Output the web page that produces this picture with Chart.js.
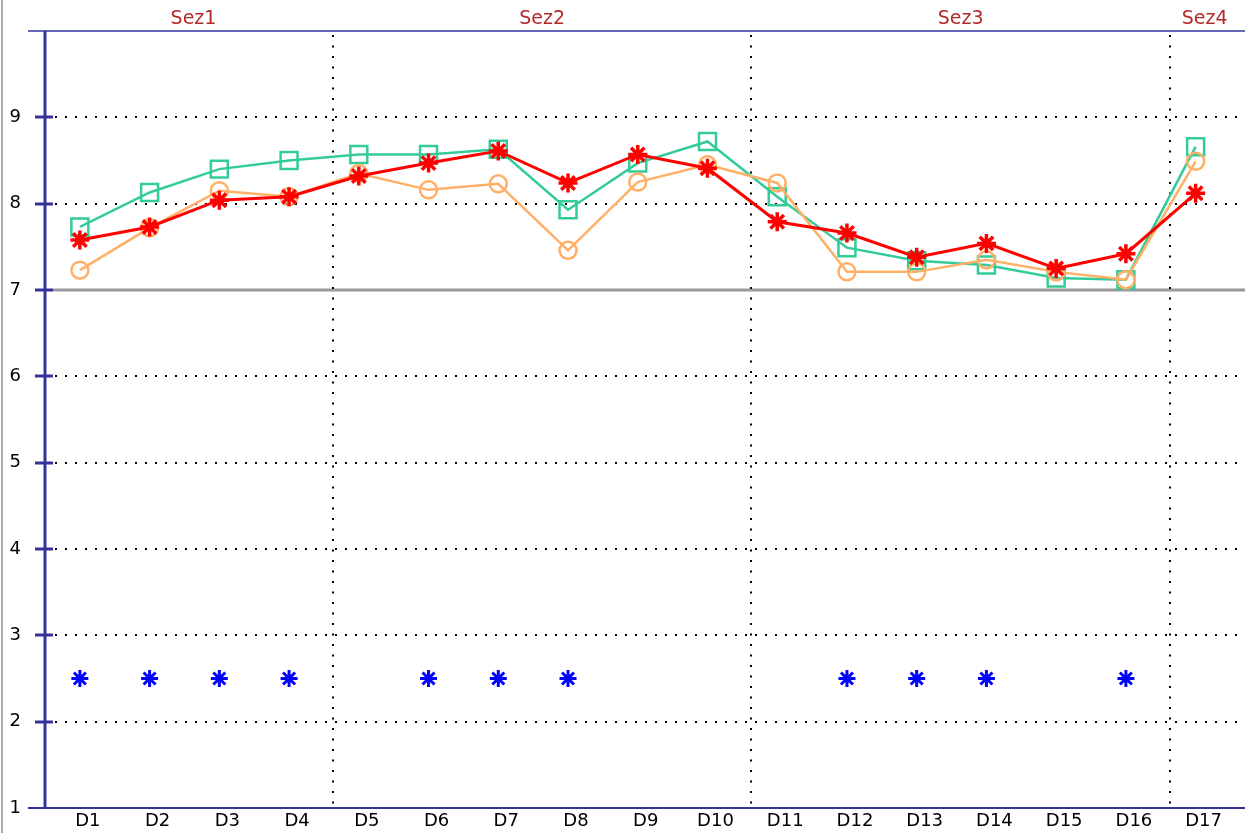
<!DOCTYPE html>
<html>
<head>
<meta charset="utf-8">
<script src="https://cdn.jsdelivr.net/npm/chart.js@4.4.1/dist/chart.umd.min.js"></script>
<style>
  html, body { margin: 0; padding: 0; background: #fff; overflow: hidden; }
  #wrap { width: 1245px; height: 833px; }
</style>
</head>
<body>
<div id="wrap"><canvas id="trend_chart"></canvas></div>
<script>
const labels = ['D1','D2','D3','D4','D5','D6','D7','D8','D9','D10','D11','D12','D13','D14','D15','D16','D17'];
const green_vals = [7.73, 8.13, 8.40, 8.50, 8.57, 8.57, 8.63, 7.93, 8.47, 8.72, 8.08, 7.49, 7.34, 7.29, 7.14, 7.12, 8.66];
const red_vals = [7.58, 7.73, 8.04, 8.08, 8.32, 8.47, 8.61, 8.24, 8.57, 8.41, 7.79, 7.66, 7.38, 7.54, 7.25, 7.42, 8.12];
const orange_vals = [7.23, 7.72, 8.15, 8.08, 8.35, 8.16, 8.23, 7.46, 8.25, 8.45, 8.24, 7.21, 7.21, 7.35, 7.21, 7.12, 8.49];
const blue_vals = [2.5, 2.5, 2.5, 2.5, null, 2.5, 2.5, 2.5, null, null, null, 2.5, 2.5, 2.5, null, 2.5, null];
// sections: name, first index, last index
const sections = [['Sez1', 0, 3], ['Sez2', 4, 9], ['Sez3', 10, 15], ['Sez4', 16, 16]];
const y_ticks = [1, 2, 3, 4, 5, 6, 7, 8, 9];

const AXIS_BLUE = '#333399';
const FONT = 'DejaVu Sans';

// draws grid, separators, axis lines and section titles
const framePlugin = {
  id: 'frame',
  beforeDatasetsDraw(chart) {
    const ctx = chart.ctx;
    const ys = chart.scales.y, xs = chart.scales.x;
    const area = chart.chartArea;
    const W = chart.width;
    const step = xs.getPixelForValue(1) - xs.getPixelForValue(0);
    ctx.save();
    // left border
    ctx.strokeStyle = '#aaaaaa';
    ctx.lineWidth = 2;
    ctx.beginPath(); ctx.moveTo(2, 0); ctx.lineTo(2, chart.height); ctx.stroke();

    // horizontal grid
    y_ticks.forEach(v => {
      if (v === 1) return;
      const y = Math.round(ys.getPixelForValue(v));
      ctx.beginPath();
      if (v === 7) {
        ctx.setLineDash([]);
        ctx.strokeStyle = '#999999';
        ctx.lineWidth = 3;
        ctx.moveTo(area.left + 8, y); ctx.lineTo(W, y);
      } else {
        ctx.setLineDash([2, 8]);
        ctx.strokeStyle = '#000000';
        ctx.lineWidth = 2;
        ctx.moveTo(area.left + 10, y); ctx.lineTo(W, y);
      }
      ctx.stroke();
    });

    // vertical separators
    ctx.setLineDash([2, 8.5]);
    ctx.strokeStyle = '#000000';
    ctx.lineWidth = 2;
    sections.slice(0, -1).forEach(s => {
      const x = Math.round(xs.getPixelForValue(s[2]) + step / 2 + 9);
      ctx.beginPath(); ctx.moveTo(x, area.top + 4); ctx.lineTo(x, area.bottom); ctx.stroke();
    });
    ctx.setLineDash([]);

    // section titles
    ctx.fillStyle = '#b22a2a';
    ctx.font = '19px "' + FONT + '"';
    ctx.textAlign = 'center';
    ctx.textBaseline = 'middle';
    sections.forEach(s => {
      const x = (xs.getPixelForValue(s[1]) + xs.getPixelForValue(s[2])) / 2 + 9;
      ctx.fillText(s[0], x, 19);
    });
    ctx.restore();
  },
  afterDatasetsDraw(chart) {
    const ctx = chart.ctx;
    const ys = chart.scales.y;
    const area = chart.chartArea;
    const W = chart.width;
    ctx.save();
    ctx.strokeStyle = AXIS_BLUE;
    // top and bottom lines
    ctx.lineWidth = 1.5;
    ctx.beginPath(); ctx.moveTo(28, area.top); ctx.lineTo(W, area.top); ctx.stroke();
    ctx.lineWidth = 2;
    ctx.beginPath(); ctx.moveTo(28, area.bottom); ctx.lineTo(W, area.bottom); ctx.stroke();
    // y axis line
    ctx.lineWidth = 3;
    ctx.beginPath(); ctx.moveTo(area.left, area.top); ctx.lineTo(area.left, area.bottom); ctx.stroke();
    // tick marks
    y_ticks.forEach(v => {
      if (v === 1) return;
      const y = Math.round(ys.getPixelForValue(v));
      ctx.beginPath(); ctx.moveTo(area.left - 10, y); ctx.lineTo(area.left + 8, y); ctx.stroke();
    });
    ctx.restore();
  }
};

const trend_chart = document.getElementById('trend_chart');

new Chart(trend_chart, {
  type: 'line',
  data: {
    labels: labels,
    datasets: [
      {
        label: 'blu',
        data: blue_vals,
        showLine: false,
        borderColor: '#0000ff',
        backgroundColor: '#0000ff',
        pointStyle: 'star',
        pointRadius: 8.5,
        pointBorderWidth: 3,
        order: 4
      },
      {
        label: 'verde',
        data: green_vals,
        borderColor: '#33cc99',
        backgroundColor: 'rgba(0,0,0,0)',
        borderWidth: 2.5,
        pointStyle: 'rect',
        pointRadius: 12,
        pointBorderWidth: 2.5,
        tension: 0,
        order: 3
      },
      {
        label: 'arancio',
        data: orange_vals,
        borderColor: '#ffb066',
        backgroundColor: 'rgba(0,0,0,0)',
        borderWidth: 2.5,
        pointStyle: 'circle',
        pointRadius: 8.5,
        pointBorderWidth: 2.5,
        tension: 0,
        order: 2
      },
      {
        label: 'rosso',
        data: red_vals,
        borderColor: '#ff0000',
        backgroundColor: '#ff0000',
        borderWidth: 3,
        pointStyle: 'star',
        pointRadius: 9.5,
        pointBorderWidth: 3.5,
        tension: 0,
        order: 1
      }
    ]
  },
  options: {
    responsive: true,
    maintainAspectRatio: false,
    animation: false,
    layout: { padding: { top: 31, right: 10, left: 0, bottom: 0 } },
    plugins: {
      legend: { display: false },
      tooltip: { enabled: false }
    },
    scales: {
      x: {
        type: 'category',
        offset: true,
        grid: { display: false, drawTicks: false },
        border: { display: false },
        ticks: {
          color: '#000',
          font: { family: FONT, size: 18 },
          padding: 3,
          labelOffset: 8,
          maxRotation: 0,
          autoSkip: false
        },
        afterFit: s => { s.height = 25 }
      },
      y: {
        min: 1,
        max: 10,
        grid: { display: false, drawTicks: true, tickLength: 22 },
        border: { display: false },
        ticks: {
          stepSize: 1,
          color: '#000',
          font: { family: FONT, size: 18 },
          padding: 2,
          callback: v => (v === 10 ? '' : v)
        },
        afterFit: s => { s.width = 45 }
      }
    }
  },
  plugins: [framePlugin]
});
</script>
</body>
</html>
